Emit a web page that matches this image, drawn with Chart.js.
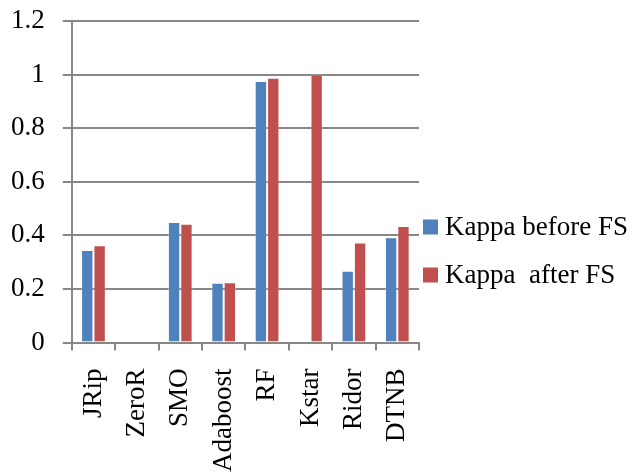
<!DOCTYPE html>
<html>
<head>
<meta charset="utf-8">
<script src="https://cdn.jsdelivr.net/npm/chart.js@4"></script>
<style>
  html, body { margin: 0; padding: 0; background: #fff; }
  #wrap { width: 633px; height: 474px; position: relative; }
</style>
</head>
<body>
<div id="wrap"><canvas id="myChart"></canvas></div>
<script>
var classifiers = ['JRip', 'ZeroR', 'SMO', 'Adaboost', 'RF', 'Kstar', 'Ridor', 'DTNB'];
var kappaBefore = [0.345, 0, 0.45, 0.223, 0.976, 0, 0.268, 0.393];
var kappaAfter = [0.363, 0, 0.443, 0.225, 0.988, 1.0, 0.373, 0.435];
var yTicks = [0, 0.2, 0.4, 0.6, 0.8, 1, 1.2];

var gridGray = '#878787';
var serif = 'Liberation Serif, Times New Roman, serif';

// legend drawn beside the plot area, boxes + labels
var sideLegend = {
	id: 'sideLegend',
	afterDraw: function(chart) {
		var ctx = chart.ctx;
		var sets = chart.data.datasets;
		var x = chart.chartArea.right + 4;
		var y = chart.height / 2 - 10;
		ctx.save();
		ctx.font = '27px ' + serif;
		ctx.textBaseline = 'middle';
		ctx.textAlign = 'left';
		for (var i = 0; i < sets.length; i++) {
			var cy = y + i * 48;
			ctx.fillStyle = sets[i].backgroundColor;
			ctx.fillRect(x, cy - 7.5, 15, 15);
			ctx.fillStyle = '#000';
			ctx.fillText(sets[i].label, x + 22, cy + 1);
		}
		ctx.restore();
	}
};

var ctx = document.getElementById('myChart').getContext('2d');
var myChart = new Chart(ctx, {
	type: 'bar',
	data: {
		labels: classifiers,
		datasets: [{
			label: 'Kappa before FS',
			data: kappaBefore,
			backgroundColor: '#4F81BD',
			borderColor: 'rgba(255,255,255,0.3)',
			borderWidth: 1
		}, {
			label: 'Kappa  after FS',
			data: kappaAfter,
			backgroundColor: '#C0504D',
			borderColor: 'rgba(255,255,255,0.3)',
			borderWidth: 1
		}]
	},
	options: {
		responsive: true,
		maintainAspectRatio: false,
		animation: false,
		layout: {
			padding: { left: -7, top: 21, right: 214, bottom: -16 }
		},
		datasets: {
			bar: { categoryPercentage: 0.57, barPercentage: 1 }
		},
		plugins: {
			legend: { display: false },
			tooltip: { enabled: false }
		},
		scales: {
			x: {
				grid: {
					drawOnChartArea: false,
					drawTicks: true,
					tickLength: 8,
					color: gridGray,
					lineWidth: 2
				},
				border: { display: true, color: gridGray, width: 2 },
				ticks: {
					autoSkip: false,
					minRotation: 90,
					maxRotation: 90,
					padding: 18,
					color: '#000',
					font: { family: serif, size: 27 }
				}
			},
			y: {
				min: 0,
				max: 1.2,
				afterBuildTicks: function(axis) {
					axis.ticks = yTicks.map(function(v) { return { value: v }; });
				},
				afterFit: function(axis) {
					axis.paddingTop = 0;
				},
				grid: {
					color: gridGray,
					lineWidth: 2,
					tickLength: 9
				},
				border: { display: true, color: gridGray, width: 2 },
				ticks: {
					padding: 18,
					color: '#000',
					font: { family: serif, size: 27 },
					callback: function(v) { return String(+v.toFixed(1)); }
				}
			}
		}
	},
	plugins: [sideLegend]
});
</script>
</body>
</html>
